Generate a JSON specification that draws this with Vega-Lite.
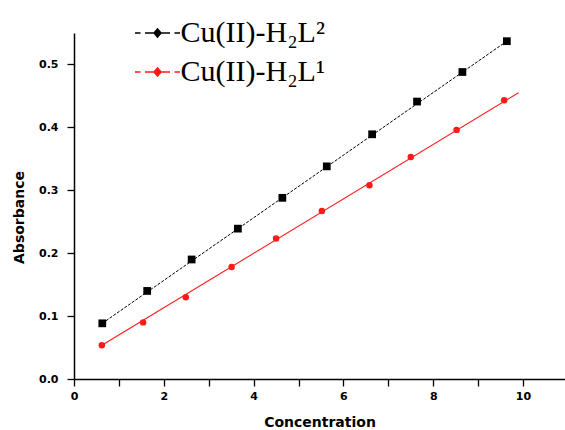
{
  "$schema": "https://vega.github.io/schema/vega-lite/v6.json",
  "width": 491,
  "height": 346,
  "autosize": {"type": "none"},
  "padding": {"left": 74, "top": 33, "right": 0, "bottom": 51},
  "background": "white",
  "config": {
    "view": {"stroke": null},
    "axis": {
      "grid": false,
      "domainColor": "black",
      "domainWidth": 1.5,
      "tickColor": "black",
      "tickWidth": 1.3,
      "tickSize": 7,
      "labelColor": "black",
      "titleColor": "black",
      "labelFont": "DejaVu Sans",
      "labelFontWeight": "bold",
      "labelFontSize": 11,
      "titleFont": "DejaVu Sans",
      "titleFontWeight": "bold",
      "titleFontSize": 14,
      "labelOverlap": false,
      "labelFlush": false
    }
  },
  "datasets": {
    "points": [
      {"series": "Cu(II)-H₂L²", "conc": 0.63, "abs": 0.0885},
      {"series": "Cu(II)-H₂L²", "conc": 1.63, "abs": 0.140},
      {"series": "Cu(II)-H₂L²", "conc": 2.62, "abs": 0.190},
      {"series": "Cu(II)-H₂L²", "conc": 3.65, "abs": 0.239},
      {"series": "Cu(II)-H₂L²", "conc": 4.64, "abs": 0.288},
      {"series": "Cu(II)-H₂L²", "conc": 5.63, "abs": 0.338},
      {"series": "Cu(II)-H₂L²", "conc": 6.64, "abs": 0.389},
      {"series": "Cu(II)-H₂L²", "conc": 7.64, "abs": 0.441},
      {"series": "Cu(II)-H₂L²", "conc": 8.65, "abs": 0.488},
      {"series": "Cu(II)-H₂L²", "conc": 9.64, "abs": 0.537},
      {"series": "Cu(II)-H₂L¹", "conc": 0.62, "abs": 0.0535},
      {"series": "Cu(II)-H₂L¹", "conc": 1.54, "abs": 0.090},
      {"series": "Cu(II)-H₂L¹", "conc": 2.49, "abs": 0.130},
      {"series": "Cu(II)-H₂L¹", "conc": 3.51, "abs": 0.178},
      {"series": "Cu(II)-H₂L¹", "conc": 4.50, "abs": 0.2235},
      {"series": "Cu(II)-H₂L¹", "conc": 5.52, "abs": 0.267},
      {"series": "Cu(II)-H₂L¹", "conc": 6.58, "abs": 0.308},
      {"series": "Cu(II)-H₂L¹", "conc": 7.50, "abs": 0.353},
      {"series": "Cu(II)-H₂L¹", "conc": 8.52, "abs": 0.396},
      {"series": "Cu(II)-H₂L¹", "conc": 9.58, "abs": 0.443}
    ],
    "fits": [
      {"series": "Cu(II)-H₂L²", "conc": 0.63, "abs": 0.0885},
      {"series": "Cu(II)-H₂L²", "conc": 9.64, "abs": 0.537},
      {"series": "Cu(II)-H₂L¹", "conc": 0.62, "abs": 0.0535},
      {"series": "Cu(II)-H₂L¹", "conc": 9.9, "abs": 0.455}
    ]
  },
  "layer": [
    {
      "data": {"name": "fits"},
      "transform": [{"filter": "datum.series === 'Cu(II)-H₂L²'"}],
      "mark": {"type": "line", "color": "#000000", "strokeWidth": 1, "strokeDash": [3, 1.5]},
      "encoding": {
        "x": {"field": "conc", "type": "quantitative", "scale": {"domain": [0, 10.935], "nice": false, "zero": false},
          "axis": {"title": "Concentration", "values": [0,1,2,3,4,5,6,7,8,9,10],
            "labelExpr": "datum.value % 2 === 0 ? format(datum.value, 'd') : ''",
            "labelPadding": 4, "titleY": 43, "titleBaseline": "middle",
            "encode": {"ticks": {"update": {"y2": {"signal": "datum.value % 2 === 0 ? 7 : 4"}}}}}},
        "y": {"field": "abs", "type": "quantitative", "scale": {"domain": [0, 0.55], "nice": false, "zero": false},
          "axis": {"title": "Absorbance", "values": [0,0.05,0.1,0.15,0.2,0.25,0.3,0.35,0.4,0.45,0.5,0.55],
            "labelExpr": "abs(datum.value*10 - round(datum.value*10)) < 0.001 && datum.value < 0.52 ? format(datum.value, '.1f') : ''",
            "labelPadding": 9, "titleX": -55, "titleY": 184, "titleAngle": -90, "titleAlign": "center", "titleBaseline": "middle",
            "encode": {"ticks": {"update": {"x2": {"signal": "abs(datum.value*10 - round(datum.value*10)) < 0.001 && datum.value < 0.52 ? -7 : -4"}}}}}}
      }
    },
    {
      "data": {"name": "fits"},
      "transform": [{"filter": "datum.series === 'Cu(II)-H₂L¹'"}],
      "mark": {"type": "line", "color": "#ff1a1a", "strokeWidth": 1.1},
      "encoding": {
        "x": {"field": "conc", "type": "quantitative"},
        "y": {"field": "abs", "type": "quantitative"}
      }
    },
    {
      "data": {"name": "points"},
      "transform": [{"filter": "datum.series === 'Cu(II)-H₂L²'"}],
      "mark": {"type": "point", "shape": "square", "filled": true, "opacity": 1, "size": 60},
      "encoding": {
        "x": {"field": "conc", "type": "quantitative"},
        "y": {"field": "abs", "type": "quantitative"},
        "color": {"field": "series", "type": "nominal",
          "scale": {"domain": ["Cu(II)-H₂L²", "Cu(II)-H₂L¹"], "range": ["#000000", "#ff1a1a"]},
          "legend": {
            "title": null, "orient": "none", "legendX": 68.5, "legendY": -15, "direction": "vertical",
            "padding": 0, "symbolSize": 100, "symbolStrokeWidth": 0, "symbolOffset": 0,
            "symbolType": "M-4.5,-0.16L-3.4,-0.16L-3.4,0.16L-4.5,0.16Z M-2.5,-0.16L-0.8,-0.16L-0.8,0.16L-2.5,0.16Z M0.8,-0.16L2.5,-0.16L2.5,0.16L0.8,0.16Z M3.4,-0.16L4.5,-0.16L4.5,0.16L3.4,0.16Z M0,-1.05L0.9,0L0,1.05L-0.9,0Z",
            "labelFont": "Liberation Serif", "labelFontSize": 30, "labelFontWeight": "normal", "labelOffset": 8, "rowPadding": 9, "labelLimit": 0,
            "encode": {
              "symbols": {"update": {
                "shape": {"value": "M-4.5,-0.16L-3.4,-0.16L-3.4,0.16L-4.5,0.16Z M-2.5,-0.16L-0.8,-0.16L-0.8,0.16L-2.5,0.16Z M0.8,-0.16L2.5,-0.16L2.5,0.16L0.8,0.16Z M3.4,-0.16L4.5,-0.16L4.5,0.16L3.4,0.16Z M0,-1.05L0.9,0L0,1.05L-0.9,0Z"},
                "size": {"value": 100},
                "fill": {"scale": "color", "field": "value"},
                "strokeWidth": {"value": 0},
                "opacity": {"value": 1}}},
              "labels": {"update": {"fill": {"scale": "color", "field": "value"}}}
            }
          }}
      }
    },
    {
      "data": {"name": "points"},
      "transform": [{"filter": "datum.series === 'Cu(II)-H₂L¹'"}],
      "mark": {"type": "point", "shape": "circle", "filled": true, "opacity": 1, "size": 42},
      "encoding": {
        "x": {"field": "conc", "type": "quantitative"},
        "y": {"field": "abs", "type": "quantitative"},
        "color": {"field": "series", "type": "nominal"}
      }
    }
  ]
}
